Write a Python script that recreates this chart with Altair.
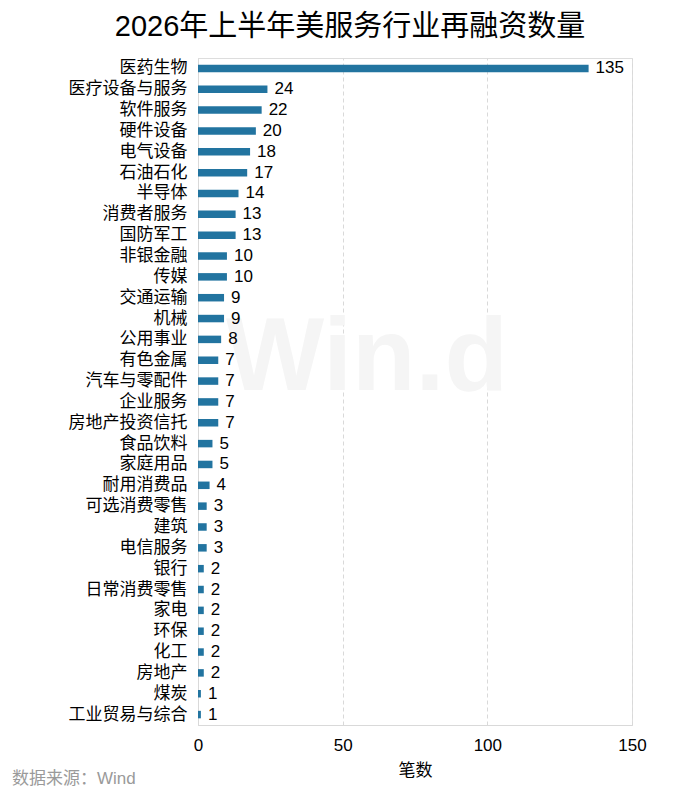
import altair as alt
import pandas as pd

categories = ["医药生物", "医疗设备与服务", "软件服务", "硬件设备", "电气设备", "石油石化",
              "半导体", "消费者服务", "国防军工", "非银金融", "传媒", "交通运输", "机械",
              "公用事业", "有色金属", "汽车与零配件", "企业服务", "房地产投资信托",
              "食品饮料", "家庭用品", "耐用消费品", "可选消费零售", "建筑", "电信服务",
              "银行", "日常消费零售", "家电", "环保", "化工", "房地产", "煤炭", "工业贸易与综合"]
values = [135, 24, 22, 20, 18, 17, 14, 13, 13, 10, 10, 9, 9, 8, 7, 7, 7, 7,
          5, 5, 4, 3, 3, 3, 2, 2, 2, 2, 2, 2, 1, 1]
x_ticks = [0, 50, 100, 150]

title_text = "2026年上半年美服务行业再融资数量"
source_text = "数据来源：Wind"
x_title = "笔数"
watermark_text = "Win.d"

FONT = "Liberation Sans Narrow, Liberation Sans, Noto Sans CJK SC, sans-serif"

df = pd.DataFrame({"cat": categories, "val": values})

y_enc = alt.Y("cat:N", sort=categories, title=None,
              scale=alt.Scale(paddingInner=0.62, paddingOuter=0.31),
              axis=alt.Axis(labelFontSize=17, labelColor="#000000", labelFont=FONT,
                            ticks=False, labelPadding=11, domainColor="#d9d9d9",
                            grid=False))
x_enc = alt.X("val:Q", title=x_title,
              scale=alt.Scale(domain=[0, 150], nice=False),
              axis=alt.Axis(values=x_ticks, labelFontSize=17, labelColor="#000000",
                            labelFont=FONT, ticks=False, labelPadding=12,
                            labelFlush=False,
                            titleFontSize=17, titleFont=FONT, titleFontWeight="normal",
                            titleColor="#000000", titlePadding=9,
                            domainColor="#d9d9d9", gridColor="#d9d9d9",
                            gridDash=[4, 3], grid=True))

base = alt.Chart(df)

watermark = alt.Chart(pd.DataFrame({"t": [watermark_text]})).mark_text(
    font="Liberation Sans, sans-serif", fontSize=104, fontWeight="bold",
    color="#f5f5f5", align="center", baseline="alphabetic"
).encode(text="t:N", x=alt.value(169), y=alt.value(332))

bars = base.mark_bar(color="#2274a0", size=7.5).encode(x=x_enc, y=y_enc)

labels = base.mark_text(align="left", baseline="middle", dx=7, fontSize=17,
                        font=FONT, color="#000000").encode(
    x="val:Q", y=alt.Y("cat:N", sort=categories), text="val:Q")

source = alt.Chart(pd.DataFrame({"t": [source_text]})).mark_text(
    align="left", baseline="middle", fontSize=17, font=FONT, color="#9a9a9a"
).encode(text="t:N", x=alt.value(-186), y=alt.value(721))

chart = alt.layer(watermark, bars, labels, source).properties(
    width=434, height=667,
    title=alt.TitleParams(title_text, fontSize=29, font=FONT, fontWeight="normal",
                          color="#000000", anchor="middle", dx=-65, offset=16),
    autosize=alt.AutoSizeParams(type="none"),
    padding={"left": 190, "top": 50, "right": 60, "bottom": 68},
).configure_view(stroke=None).configure(background="#ffffff")

chart.save("out.html", embed_options={"renderer": "svg", "actions": False})
